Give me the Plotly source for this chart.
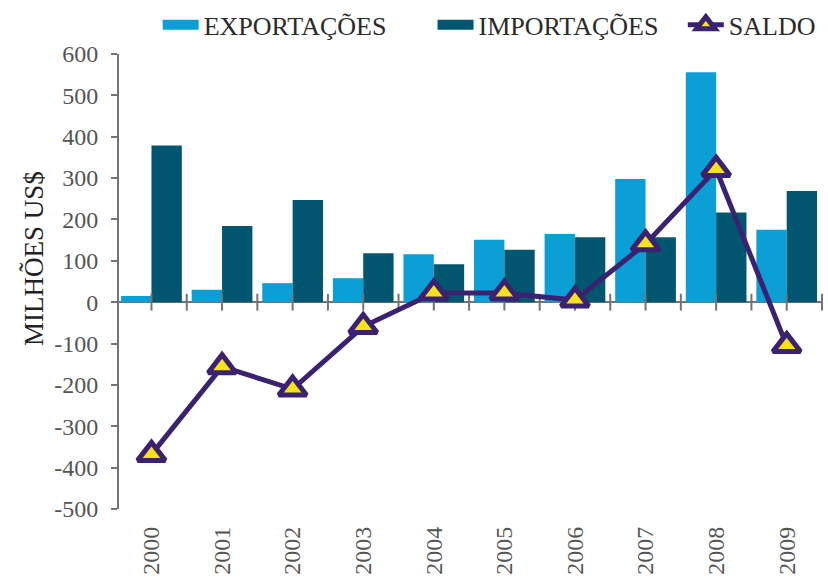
import numpy as np
import plotly.graph_objects as go

# Annual trade figures (million US$)
years = ["2000", "2001", "2002", "2003", "2004", "2005", "2006", "2007", "2008", "2009"]
exportacoes = [15, 30, 46, 58, 116, 151, 165, 298, 556, 175]
importacoes = [379, 184, 247, 118, 92, 127, 157, 157, 217, 269]
saldo = [-368, -156, -210, -59, 22, 22, 5, 141, 321, -105]

y_ticks = list(range(-500, 601, 100))
y_ticktext = [str(v) for v in y_ticks]  # plain hyphen for negatives

C_EXP = "#0c9fd6"
C_IMP = "#02566f"
C_SAL = "#3a2271"
C_TRI = "#f6e21a"
C_AXIS = "#737373"
FONT = "Liberation Serif"

pos = np.arange(len(years))

fig = go.Figure()

fig.add_trace(go.Bar(x=pos, y=exportacoes, name="EXPORTAÇÕES",
                     marker=dict(color=C_EXP, line=dict(width=0)), showlegend=False))
fig.add_trace(go.Bar(x=pos, y=importacoes, name="IMPORTAÇÕES",
                     marker=dict(color=C_IMP, line=dict(width=0)), showlegend=False))

# tick marks along the zero line: at each category centre and boundary
tick_x = np.concatenate([pos, pos + 0.5])
fig.add_trace(go.Scatter(x=tick_x, y=np.zeros_like(tick_x, dtype=float), mode="markers",
                         marker=dict(symbol="line-ns", size=12,
                                     line=dict(width=2, color=C_AXIS)),
                         hoverinfo="skip", showlegend=False, cliponaxis=False))

fig.add_trace(go.Scatter(x=pos, y=saldo, name="SALDO", mode="lines+markers",
                         line=dict(color=C_SAL, width=5),
                         marker=dict(symbol="triangle-up", size=24, color=C_TRI,
                                     line=dict(width=5, color=C_SAL)),
                         legend="legend3", cliponaxis=False))

# legend-only swatches for the bars (wide flat rectangles)
fig.add_trace(go.Scatter(x=[None], y=[None], mode="lines", name="EXPORTAÇÕES",
                         line=dict(color=C_EXP, width=10), legend="legend"))
fig.add_trace(go.Scatter(x=[None], y=[None], mode="lines", name="IMPORTAÇÕES",
                         line=dict(color=C_IMP, width=10), legend="legend2"))

legend_style = dict(orientation="h", yanchor="middle", y=1.064, xanchor="left",
                    itemwidth=36,
                    font=dict(family=FONT, size=26, color="#2a2a2a"),
                    bgcolor="rgba(0,0,0,0)", borderwidth=0)

fig.update_layout(
    width=828, height=580,
    margin=dict(l=119, r=6, t=54, b=71, autoexpand=False),
    paper_bgcolor="white", plot_bgcolor="white",
    barmode="group", bargap=0.14, bargroupgap=0,
    font=dict(family=FONT),
    legend=dict(x=0.055, **legend_style),
    legend2=dict(x=0.446, **legend_style),
    legend3=dict(x=0.802, **legend_style),
    xaxis=dict(range=[-0.46, 9.5], tickmode="array", tickvals=pos, ticktext=years,
               tickangle=-90, showline=False, ticks="", showgrid=False, zeroline=False,
               ticklabelstandoff=12,
               tickfont=dict(family=FONT, size=24, color="#555555")),
    yaxis=dict(range=[-500, 600], tickmode="array", tickvals=y_ticks, ticktext=y_ticktext,
               showline=True, linewidth=2, linecolor=C_AXIS,
               ticks="outside", ticklen=6, tickwidth=2, tickcolor=C_AXIS,
               showgrid=False, zeroline=True, zerolinecolor=C_AXIS, zerolinewidth=2,
               ticklabelstandoff=8,
               tickfont=dict(family=FONT, size=24, color="#555555")),
    annotations=[dict(text="MILHÕES US$", xref="paper", yref="paper",
                      x=-0.121, y=0.5516, xanchor="center", yanchor="middle",
                      textangle=-90, showarrow=False,
                      font=dict(family=FONT, size=27, color="#222222"))],
)

fig.write_html("out.html")
